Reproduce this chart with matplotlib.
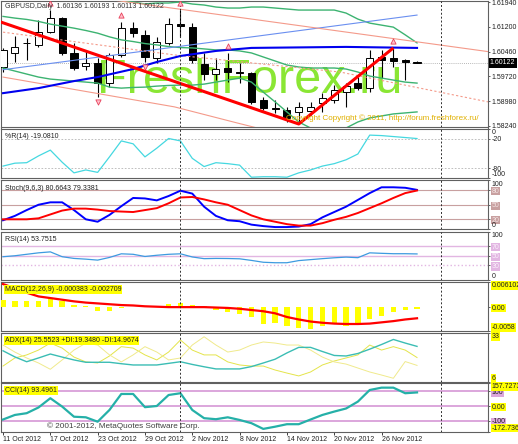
"""MetaTrader-style GBPUSD daily chart with six indicator panes."""

import matplotlib
matplotlib.use("Agg")
import matplotlib.pyplot as plt
import matplotlib.transforms as mtransforms
import numpy as np

plt.rcParams["font.family"] = ["Liberation Sans", "DejaVu Sans"]
plt.rcParams["font.size"] = 5

W, H = 518, 444
FS = 5

# ------------------------------------------------------------------ data
tick_bars = [0, 4, 8, 12, 16, 20, 24, 28, 32]
tick_dates = ["11 Oct 2012", "17 Oct 2012", "23 Oct 2012", "29 Oct 2012",
              "2 Nov 2012", "8 Nov 2012", "14 Nov 2012", "20 Nov 2012",
              "26 Nov 2012"]
month_separators = [15, 37]

opens = [1.6000, 1.6042, 1.6071, 1.6066, 1.6104, 1.6146, 1.6042, 1.6003, 1.6012,
         1.5952, 1.6036, 1.6116, 1.6096, 1.6027, 1.6072, 1.6128, 1.6119, 1.6009,
         1.5979, 1.5997, 1.5985, 1.5982, 1.5902, 1.5878, 1.5872, 1.5866, 1.5869,
         1.5893, 1.5902, 1.5925, 1.5952, 1.5937, 1.6030, 1.6027, 1.6021, 1.60136]
highs = [1.6057, 1.6093, 1.6087, 1.6140, 1.6170, 1.6149, 1.6072, 1.6051, 1.6027,
         1.6042, 1.6134, 1.6134, 1.6110, 1.6090, 1.6146, 1.6170, 1.6131, 1.6042,
         1.6027, 1.6042, 1.6012, 1.5985, 1.5911, 1.5902, 1.5881, 1.5896, 1.5896,
         1.5922, 1.5946, 1.5952, 1.5970, 1.6051, 1.6051, 1.6057, 1.6024, 1.60193]
lows = [1.5985, 1.6015, 1.6021, 1.6060, 1.6101, 1.6036, 1.5991, 1.5991, 1.5911,
        1.5940, 1.6030, 1.6090, 1.6015, 1.6012, 1.6066, 1.6090, 1.6012, 1.5961,
        1.5961, 1.5955, 1.5952, 1.5890, 1.5872, 1.5863, 1.5836, 1.5830, 1.5857,
        1.5866, 1.5893, 1.5881, 1.5931, 1.5925, 1.5967, 1.6000, 1.5961, 1.60113]
closes = [1.6051, 1.6060, 1.6073, 1.6104, 1.6146, 1.6042, 1.5997, 1.6012, 1.5952,
          1.6036, 1.6116, 1.6101, 1.6030, 1.6075, 1.6128, 1.6122, 1.6021, 1.5979,
          1.5994, 1.5985, 1.5982, 1.5896, 1.5878, 1.5875, 1.5848, 1.5881, 1.5881,
          1.5908, 1.5931, 1.5943, 1.5937, 1.6027, 1.6021, 1.6018, 1.6015, 1.60122]

bb_upper_start = 10
bb_upper = [1.6197, 1.6194, 1.6188, 1.6191, 1.6191, 1.6194, 1.6188, 1.6185, 1.6179,
            1.6176, 1.6176, 1.6179, 1.6179, 1.6176, 1.6173, 1.6170, 1.6170, 1.6170,
            1.6170, 1.6161, 1.6143, 1.6131, 1.6125, 1.6119, 1.6096, 1.6072]
bb_middle = [1.6151, 1.6146, 1.6142, 1.6136, 1.6128, 1.6122, 1.6116, 1.6109, 1.6101,
             1.6090, 1.6081, 1.6076, 1.6070, 1.6066, 1.6061, 1.6058, 1.6057, 1.6054,
             1.6051, 1.6051, 1.6048, 1.6042, 1.6030, 1.6018, 1.6006, 1.6000, 1.5997,
             1.5997, 1.5997, 1.5994, 1.5985, 1.5973, 1.5967, 1.5961, 1.5955, 1.5952]
bb_lower = [1.5997, 1.5988, 1.5979, 1.5970, 1.5964, 1.5961, 1.5958, 1.5955, 1.5952,
            1.5940, 1.5937, 1.5939, 1.5940, 1.5943, 1.5945, 1.5946, 1.5946, 1.5949,
            1.5955, 1.5961, 1.5967, 1.5955, 1.5925, 1.5896, 1.5866, 1.5836, 1.5818,
            1.5812, 1.5809, 1.5818, 1.5836, 1.5848, 1.5854, 1.5860, 1.5863, 1.5866]

ma_bars = [0, 3, 6, 8, 11, 13, 15, 18, 21, 29, 35]
ma_prices = [1.5922, 1.5937, 1.5958, 1.5970, 1.5994, 1.6015, 1.6033, 1.6048,
             1.6057, 1.6060, 1.6057]

trend_blue_bars = [0, 35]
trend_blue_prices = [1.5992, 1.6155]
chan_upper_bars = [9.3, 41.0]
chan_upper_prices = [1.6200, 1.6046]
chan_lower_bars = [0, 14.5, 19.8, 21.5]
chan_lower_prices = [1.5970, 1.5881, 1.5833, 1.5818]
chan_mid_bars = [0, 14.5, 28.5, 41.0]
chan_mid_prices = [1.6104, 1.6036, 1.5985, 1.5896]

zigzag_bars = [-0.25, 25, 33]
zigzag_prices = [1.6135, 1.5830, 1.6057]

fractal_up_bars = [4, 10, 15, 19, 33]
fractal_down_bars = [8, 12]

price_ticks = [1.58240, 1.58980, 1.59720, 1.60460, 1.61200, 1.61940]
bid_price = 1.60122

williams_r = [-76, -70, -69, -55, -43, -68, -90, -84, -89, -57, -24, -30, -57, -39,
              -19, -24, -60, -77, -69, -71, -74, -99, -98, -98, -99, -90, -84, -76,
              -71, -63, -51, -12, -13, -15, -17, -19.081]

stoch_main = [18, 27, 39, 50, 55, 55, 39, 20, 15, 29, 47, 64, 63, 59, 68, 79, 73, 46,
              27, 18, 16, 9, 6, 4, 4, 5, 10, 24, 35, 46, 60, 74, 86, 86, 85, 80.6643]
stoch_signal = [20, 20, 20, 22, 30, 38, 42, 42, 40, 37, 36, 35, 39, 43, 53, 65, 66, 61,
                55, 50, 39, 28, 20, 15, 10, 7, 7, 12, 19, 25, 33, 43, 53, 64, 74, 79.3381]

rsi = [48, 50, 53, 56, 58, 48, 44.5, 43, 41, 46.5, 54, 53, 48.5, 51, 53, 54, 47.5, 44,
       44.5, 44.3, 43.7, 40.4, 36.6, 35.6, 35.6, 40, 42, 44, 45.8, 47.2, 46, 56, 55,
       54.2, 54.2, 53.7515]

macd_main = [0.0018, 0.0014, 0.0015, 0.0015, 0.0019, 0.0014, 0.0006, 0.0002, -0.0010,
             -0.0010, -0.0002, 0.0000, 0.0002, 0.0000, 0.0007, 0.0011, 0.0005, 0.0003,
             -0.0008, -0.0012, -0.0016, -0.0025, -0.0041, -0.0039, -0.0045, -0.0051,
             -0.0053, -0.0045, -0.0041, -0.0045, -0.0041, -0.0029, -0.0021, -0.0012,
             -0.0007, -0.000383]
macd_signal = [0.0056, 0.0046, 0.0035, 0.0026, 0.0022, 0.0018, 0.0014, 0.0011, 0.0009,
               0.0007, 0.0005, 0.0004, 0.0002, 0.0001, 0.0, 0.0, 0.0, 0.0, -0.0001,
               -0.0002, -0.0004, -0.0007, -0.0010, -0.0015, -0.0024, -0.0030, -0.0035,
               -0.0038, -0.0040, -0.0041, -0.0041, -0.0040, -0.0037, -0.0034, -0.0030,
               -0.002709]

adx = [23.1, 19.7, 17.0, 19.1, 21.3, 19.6, 18.0, 16.7, 16.7, 16.7, 15.9, 15.2, 15.2,
       15.2, 16.1, 17.0, 15.5, 14.2, 13.0, 13.0, 13.0, 14.3, 16.3, 18.4, 21.9, 25.0,
       25.0, 22.7, 20.5, 20.2, 21.6, 24.0, 26.6, 29.4, 27.4, 25.5523]
plus_di = [14.6, 19.1, 20.8, 23.5, 27.4, 24.6, 19.6, 16.9, 16.3, 20.2, 25.4, 24.6,
           20.8, 18.0, 22.4, 29.1, 23.5, 20.8, 20.8, 16.9, 15.2, 14.6, 14.6, 12.4, 10.7,
           9.1, 11.3, 15.2, 17.4, 19.1, 20.8, 26.3, 23.5, 25.4, 23.5, 19.348]
minus_di = [26.3, 22.4, 19.1, 16.3, 12.8, 18.0, 23.5, 27.4, 26.3, 20.8, 16.9, 20.8,
            25.4, 22.4, 18.0, 19.1, 26.3, 30.9, 26.3, 22.4, 23.5, 26.3, 28.0, 27.4,
            26.3, 26.3, 23.5, 19.6, 16.9, 15.7, 13.5, 11.3, 9.6, 7.8, 17.1, 14.9674]

cci = [-91, -60, -48, -9, 54, -3, -72, -76, -106, -26, 83, 83, -7, 1, 76, 88, -26, -82,
       -89, -76, -94, -116, -155, -140, -123, -123, -91, -60, -37, -16, 31, 110, 126,
       126, 88, 93.4961]

# ------------------------------------------------------------------ layout
XMIN, XMAX = -0.17, 41.0
YELLOW = "#ffff00"
STOCH_LVL = "#c8a0a0"
RSI_LVL = "#e2b6e2"
CCI_LVL = "#dca6dc"


def px_rect(top, bottom, left=1, right=488):
    return [left / W, 1 - bottom / H, (right - left) / W, (bottom - top) / H]


def style_panel(ax, ylim):
    ax.set_xlim(XMIN, XMAX)
    ax.set_ylim(*ylim)
    ax.set_xticks([])
    ax.yaxis.tick_right()
    ax.tick_params(axis="y", length=1.5, width=0.5, pad=1.2, labelsize=FS,
                   colors="#202020")
    for s in ax.spines.values():
        s.set_color("#606060")
        s.set_linewidth(0.8)
    for b in month_separators:
        ax.axvline(b, color="#303030", lw=0.7, ls=(0, (2, 2)), zorder=6)


def right_labels(ax, values, texts, boxes, fg=None):
    ax.set_yticks(values)
    ax.set_yticklabels(texts)
    lo, hi = ax.get_ylim()
    fg = fg or [None] * len(values)
    for lab, v, box, col in zip(ax.get_yticklabels(), values, boxes, fg):
        if v == hi:
            lab.set_verticalalignment("top")
        elif v == lo:
            lab.set_verticalalignment("bottom")
        if box:
            lab.set_bbox(dict(facecolor=box, edgecolor="none", pad=0.5))
        if col:
            lab.set_color(col)


def panel_title(ax, text, box=None):
    kw = {}
    if box:
        kw["bbox"] = dict(facecolor=box, edgecolor="none", pad=0.6)
    ax.text(0.008, 0.845, text, transform=ax.transAxes, fontsize=FS,
            color="#202020", va="center", ha="left", zorder=7, **kw)


fig = plt.figure(figsize=(W / 100, H / 100), dpi=100)
fig.patch.set_facecolor("white")

ax_p = fig.add_axes(px_rect(1, 127.5))
ax_wr = fig.add_axes(px_rect(129.3, 177.7))
ax_st = fig.add_axes(px_rect(180.5, 229))
ax_rsi = fig.add_axes(px_rect(231.5, 280))
ax_macd = fig.add_axes(px_rect(282, 331))
ax_adx = fig.add_axes(px_rect(333, 381.5))
ax_cci = fig.add_axes(px_rect(383, 431.5))

x = np.arange(len(opens))

# ------------------------------------------------------------------ price
style_panel(ax_p, (1.58195, 1.6197))
ax_p.text(0.197, 0.273, "FreshForex.ru", transform=ax_p.transAxes,
          fontsize=35, color="#8ae634", ha="left", va="baseline", zorder=1)
ax_p.text(0.585, 0.075, "Copyright Copyright \u00a9 2011, http://forum.freshforex.ru/",
          transform=ax_p.transAxes, fontsize=5.8, color="#e0b000", ha="left",
          va="center", zorder=7)

ax_p.axhline(bid_price, color="#a0a0a0", lw=0.6, ls=(0, (1, 1.5)), zorder=2)

o, h, l, c = (np.asarray(v) for v in (opens, highs, lows, closes))
ax_p.vlines(x, l, h, color="black", lw=0.8, zorder=3)
up = c >= o
body_lo = np.minimum(o, c)
body_h = np.maximum(np.abs(c - o), 0.00004)
ax_p.bar(x[up], body_h[up], bottom=body_lo[up], width=0.6, color="white",
         edgecolor="black", lw=0.7, zorder=4)
ax_p.bar(x[~up], body_h[~up], bottom=body_lo[~up], width=0.6, color="black",
         edgecolor="black", lw=0.7, zorder=4)

ax_p.plot(x, bb_middle, color="#3cb371", lw=1.0, zorder=5)
ax_p.plot(x, bb_lower, color="#3cb371", lw=1.0, zorder=5)
ax_p.plot(x[bb_upper_start:], bb_upper, color="#3cb371", lw=1.0, zorder=5)
ax_p.plot(trend_blue_bars, trend_blue_prices, color="#6a8ff0", lw=0.8, zorder=5)
ax_p.plot(chan_upper_bars, chan_upper_prices, color="#f49a8a", lw=0.8, zorder=5)
ax_p.plot(chan_lower_bars, chan_lower_prices, color="#f49a8a", lw=0.8, zorder=5)
ax_p.plot(chan_mid_bars, chan_mid_prices, color="#f49a8a", lw=0.8,
          ls=(0, (2, 2)), zorder=5)
ax_p.plot(ma_bars, ma_prices, color="#0000ee", lw=1.5, zorder=5)
ax_p.plot(zigzag_bars, zigzag_prices, color="#ff0000", lw=2.2, zorder=5,
          solid_capstyle="butt")

up_tr = mtransforms.offset_copy(ax_p.transData, fig=fig, y=7, units="dots")
dn_tr = mtransforms.offset_copy(ax_p.transData, fig=fig, y=-5, units="dots")
ax_p.scatter(fractal_up_bars, h[fractal_up_bars], marker="^", s=14,
             facecolor="#ffc0cb", edgecolor="#e8405a", lw=0.6, transform=up_tr,
             zorder=6)
ax_p.scatter(fractal_down_bars, l[fractal_down_bars], marker="v", s=14,
             facecolor="#ffc0cb", edgecolor="#e8405a", lw=0.6, transform=dn_tr,
             zorder=6)

ax_p.set_yticks(price_ticks)
ax_p.set_yticklabels([f"{v:.5f}" for v in price_ticks])
ax_p.text(0.008, 0.953, "GBPUSD,Daily  1.60136 1.60193 1.60113 1.60122",
          transform=ax_p.transAxes, fontsize=FS, color="#303030", ha="left",
          va="center", zorder=7)
blend = mtransforms.blended_transform_factory(ax_p.transAxes, ax_p.transData)
ax_p.text(1.004, bid_price, f"{bid_price:.5f}", transform=blend, fontsize=FS,
          color="white", ha="left", va="center", clip_on=False,
          bbox=dict(facecolor="black", edgecolor="none", pad=0.8))

# ------------------------------------------------------------------ %R
style_panel(ax_wr, (-100, 0))
for lvl in (-20, -80):
    ax_wr.axhline(lvl, color="#b4b4b4", lw=0.6, ls=(0, (2, 2)), zorder=2)
ax_wr.plot(x, williams_r, color="#45d8e0", lw=0.9, zorder=5)
right_labels(ax_wr, [0, -20, -80, -100], ["0", "-20", "-80", "-100"], [None] * 4)
panel_title(ax_wr, "%R(14) -19.0810")

# ------------------------------------------------------------------ Stochastic
style_panel(ax_st, (0, 100))
for lvl in (80, 50, 20):
    ax_st.axhline(lvl, color=STOCH_LVL, lw=0.8, zorder=2)
ax_st.plot(x, stoch_main, color="#0000ff", lw=1.4, zorder=5)
ax_st.plot(x, stoch_signal, color="#ff0000", lw=1.4, zorder=5)
right_labels(ax_st, [100, 80, 50, 20, 0], ["100", "80", "50", "20", "0"],
             [None, STOCH_LVL, STOCH_LVL, STOCH_LVL, None],
             [None, "#f4e4e4", "#f4e4e4", "#f4e4e4", None])
panel_title(ax_st, "Stoch(9,6,3) 80.6643 79.3381")

# ------------------------------------------------------------------ RSI
style_panel(ax_rsi, (0, 100))
for lvl, ls in ((70, "-"), (50, "-"), (30, ":")):
    ax_rsi.axhline(lvl, color=RSI_LVL, lw=1.0, ls=ls, zorder=2)
ax_rsi.plot(x, rsi, color="#3d9be0", lw=0.9, zorder=5)
right_labels(ax_rsi, [100, 70, 50, 30, 0], ["100", "70", "50", "30", "0"],
             [None, RSI_LVL, RSI_LVL, RSI_LVL, None],
             [None, "#fbf0fb", "#fbf0fb", "#fbf0fb", None])
panel_title(ax_rsi, "RSI(14) 53.7515")

# ------------------------------------------------------------------ MACD
style_panel(ax_macd, (-0.0058, 0.006102))
ax_macd.bar(x, macd_main, width=0.45, color=YELLOW, zorder=3)
ax_macd.plot(x, macd_signal, color="#ff0000", lw=1.6, zorder=5)
right_labels(ax_macd, [0.006102, 0.0, -0.0058], ["0.006102", "0.00", "-0.0058"],
             [YELLOW] * 3)
panel_title(ax_macd, "MACD(12,26,9) -0.000383 -0.002709", box=YELLOW)

# ------------------------------------------------------------------ ADX
style_panel(ax_adx, (6, 33))
ax_adx.plot(x, plus_di, color="#e4e44a", lw=0.7, zorder=4)
ax_adx.plot(x, minus_di, color="#f0ea8c", lw=0.7, zorder=4)
ax_adx.plot(x, adx, color="#3bbdb4", lw=1.0, zorder=5)
right_labels(ax_adx, [33, 6], ["33", "6"], [YELLOW] * 2)
panel_title(ax_adx, "ADX(14) 25.5523 +DI:19.3480 -DI:14.9674", box=YELLOW)

# ------------------------------------------------------------------ CCI
style_panel(ax_cci, (-172.736, 157.7273))
for lvl in (100, 0, -100):
    ax_cci.axhline(lvl, color=CCI_LVL, lw=1.4, zorder=2)
ax_cci.plot(x, cci, color="#25b0a8", lw=1.6, zorder=5)
right_labels(ax_cci, [100, -100, 157.7273, 0.0, -172.736],
             ["100", "-100", "157.7273", "0.00", "-172.736"],
             [CCI_LVL, CCI_LVL, YELLOW, YELLOW, YELLOW])
panel_title(ax_cci, "CCI(14) 93.4961", box=YELLOW)
ax_cci.text(0.0945, 0.12, "\u00a9 2001-2012, MetaQuotes Software Corp.",
            transform=ax_cci.transAxes, fontsize=5.9, color="#404040",
            ha="left", va="center", zorder=7)

ax_cci.set_xticks(tick_bars)
ax_cci.set_xticklabels(tick_dates, ha="left")
ax_cci.tick_params(axis="x", length=2, width=0.6, pad=1.5, labelsize=FS,
                   colors="#202020")

fig.savefig("out.png", dpi=100)
